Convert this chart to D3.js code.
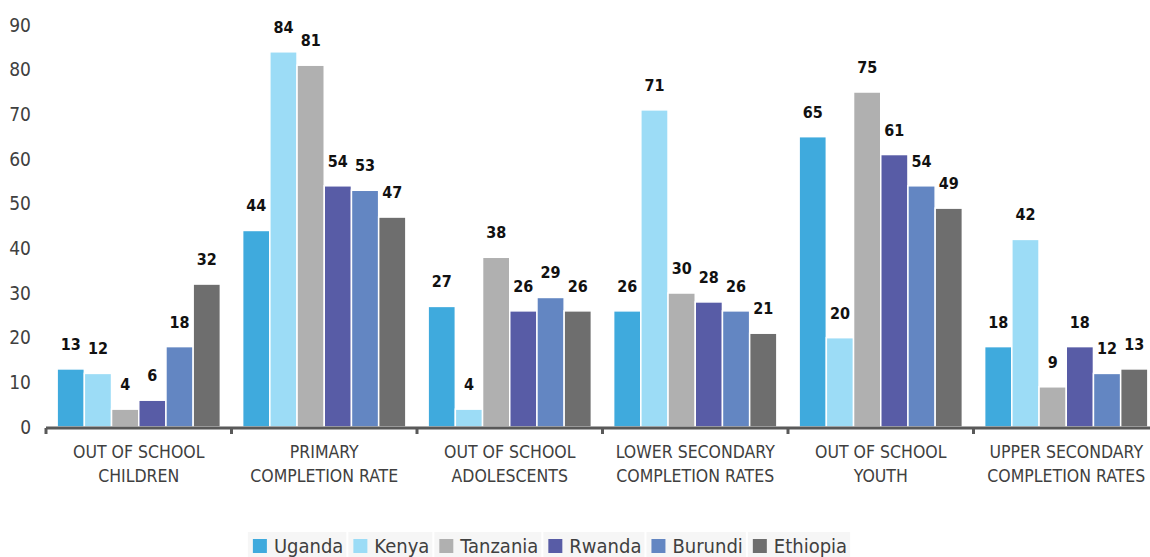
<!DOCTYPE html>
<html><head><meta charset="utf-8">
<script src="https://cdn.jsdelivr.net/npm/d3@7"></script>
<style>
html,body{margin:0;padding:0;background:#fff;}
svg text{font-family:"Liberation Sans Narrow","DejaVu Sans Condensed","Roboto",sans-serif;}
</style></head>
<body><svg id="chart" width="1150" height="557"></svg>
<script>
const categories = ["OUT OF SCHOOL\nCHILDREN","PRIMARY\nCOMPLETION RATE","OUT OF SCHOOL\nADOLESCENTS","LOWER SECONDARY\nCOMPLETION RATES","OUT OF SCHOOL\nYOUTH","UPPER SECONDARY\nCOMPLETION RATES"];
const seriesNames = ["Uganda","Kenya","Tanzania","Rwanda","Burundi","Ethiopia"];
const uganda   = [13,44,27,26,65,18];
const kenya    = [12,84,4,71,20,42];
const tanzania = [4,81,38,30,75,9];
const rwanda   = [6,54,26,28,61,18];
const burundi  = [18,53,29,26,54,12];
const ethiopia = [32,47,26,21,49,13];
const yTicks = [0,10,20,30,40,50,60,70,80,90];
const colors = ["#3faadd","#9cdcf6","#b0b0b0","#585ca6","#6386c2","#6e6e6e"];

const seriesValues = [uganda,kenya,tanzania,rwanda,burundi,ethiopia];
const svg = d3.select("#chart");
const x0 = d3.scaleBand().domain(categories).range([46,1159]).paddingInner(0.12).paddingOuter(0.06);
const x1 = d3.scaleBand().domain(seriesNames).range([0,x0.bandwidth()]).padding(0);
const y = d3.scaleLinear().domain([0,90]).range([427,25]);

// y tick labels
svg.append("g").selectAll("text").data(yTicks).join("text")
  .attr("x",31).attr("y",d=>y(d)).attr("dy","0.35em")
  .attr("text-anchor","end").attr("fill","#404040").attr("font-size",19)
  .text(d=>d);

// bars
const groups = svg.append("g").selectAll("g").data(categories).join("g")
  .attr("transform",d=>`translate(${x0(d)},0)`);
groups.each(function(cat,ci){
  const g = d3.select(this);
  const vals = seriesNames.map((s,si)=>({s,si,v:seriesValues[si][ci]}));
  g.selectAll("rect").data(vals).join("rect")
    .attr("x",d=>x1(d.s)).attr("width",x1.bandwidth())
    .attr("y",d=>y(d.v)).attr("height",d=>y(0)-y(d.v))
    .attr("fill",d=>colors[d.si]).attr("stroke","#fff").attr("stroke-width",1.5);
  g.selectAll("text").data(vals).join("text")
    .attr("x",d=>x1(d.s)+x1.bandwidth()/2).attr("y",d=>y(d.v)-19)
    .attr("text-anchor","middle").attr("font-weight","bold").attr("font-size",16)
    .attr("fill","#111").text(d=>d.v);
});

// x axis line and ticks
const axisY = y(0)+1;
svg.append("line").attr("x1",46).attr("x2",1150).attr("y1",axisY).attr("y2",axisY)
  .attr("stroke","#595959").attr("stroke-width",3);
const bounds = categories.map(c=>x0(c)-x0.step()*x0.paddingInner()/2);
bounds.push(x0(categories[categories.length-1])+x0.bandwidth()+x0.step()*x0.paddingInner()/2);
svg.append("g").selectAll("line").data(bounds).join("line")
  .attr("x1",d=>d).attr("x2",d=>d).attr("y1",axisY).attr("y2",axisY+6)
  .attr("stroke","#595959").attr("stroke-width",3);

// category labels
svg.append("g").selectAll("text").data(categories).join("text")
  .attr("x",d=>x0(d)+x0.bandwidth()/2).attr("y",458)
  .attr("text-anchor","middle").attr("fill","#404040").attr("font-size",17.5)
  .each(function(d){
    const t=d3.select(this);
    d.split("\n").forEach((line,i)=>{
      t.append("tspan").attr("x",x0(d)+x0.bandwidth()/2).attr("dy",i?24:0).text(line);
    });
  });

// legend
const leg = svg.append("g");
let lx = 0;
seriesNames.forEach((n,i)=>{
  const it = leg.append("g");
  const bg = it.append("rect").attr("x",-5).attr("y",-14).attr("height",27).attr("fill","#f6f6f6");
  it.append("rect").attr("x",0).attr("y",-7).attr("width",14).attr("height",14).attr("fill",colors[i]);
  const tx = it.append("text").attr("x",21).attr("y",0).attr("dy","0.35em")
    .attr("fill","#404040").attr("font-size",20).text(n);
  const w = 21 + tx.node().getComputedTextLength();
  bg.attr("width",w+8);
  it.attr("transform",`translate(${lx},546)`);
  lx += w + 10;
});
const totalW = lx - 10;
leg.attr("transform",`translate(${550 - totalW/2},0)`);
</script></body></html>
